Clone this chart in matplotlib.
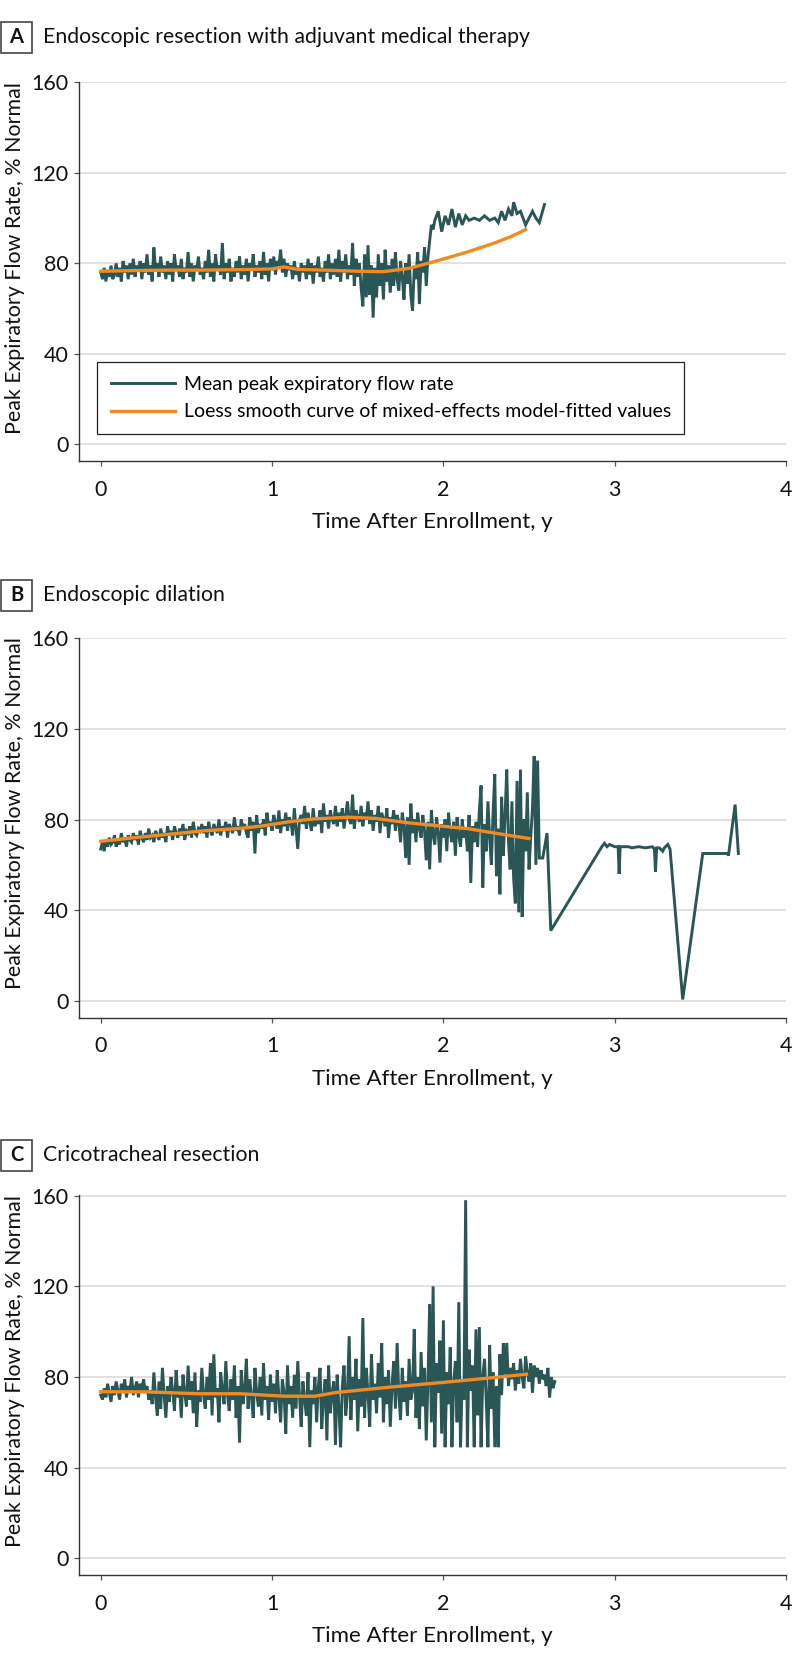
import matplotlib
matplotlib.use("Agg")
import matplotlib.pyplot as plt
import numpy as np
from matplotlib.patches import Rectangle

plt.rcParams['font.family'] = ['Lato', 'DejaVu Sans']

TEAL = '#2a5656'
ORANGE = '#f08a24'

# ---- panel A: endoscopic resection with adjuvant medical therapy ----
# daily means, one value every 0.01 y from 0
a_mean = [
    76, 73, 78, 72, 77, 74, 79, 73, 75, 80, 74, 78, 72, 81, 76, 79, 73, 80, 75, 82,
    74, 79, 77, 81, 73, 80, 76, 84, 75, 79, 72, 87, 77, 80, 74, 83, 76, 79, 73, 81,
    75, 80, 72, 84, 77, 79, 74, 82, 73, 78, 76, 85, 74, 80, 72, 79, 77, 83, 75, 78,
    73, 81, 76, 86, 74, 80, 72, 84, 77, 79, 75, 89, 73, 80, 76, 82, 72, 78, 74, 81,
    76, 83, 73, 79, 75, 82, 72, 80, 77, 84, 74, 79, 76, 81, 73, 85, 75, 80, 72, 82,
    77, 83, 75, 81, 79, 86, 76, 82, 74, 80, 77, 79, 73, 81, 75, 78, 72, 80, 76, 79,
    73, 82, 75, 80, 71, 79, 76, 83, 74, 78, 72, 81, 76, 84, 73, 80, 75, 82, 74, 86,
    72, 81, 76, 84, 73, 79, 75, 89, 70, 82, 74, 80, 69, 61, 84, 65, 88, 66, 79, 56,
    78, 65, 84, 70, 80, 64, 86, 72, 79, 67, 82, 70, 85, 73, 68, 81, 74, 64, 80, 71,
    84, 66, 59, 78, 73, 85, 62, 81, 76, 87, 70, 83, 90, 97, 95, 99,
]
a_tail_t = [1.97, 1.99, 2.01, 2.03, 2.05, 2.07, 2.09, 2.11, 2.13, 2.15, 2.18, 2.21,
            2.24, 2.27, 2.30, 2.32, 2.34, 2.36, 2.38, 2.40, 2.41, 2.43, 2.45, 2.48,
            2.50, 2.52, 2.54, 2.56, 2.59]
a_tail_v = [103, 94, 101, 97, 104, 96, 102, 97, 101, 99, 100, 99, 101, 99, 100, 98,
            103, 99, 104, 101, 107, 102, 103, 97, 100, 103, 100, 98, 106]
a_fit_t = [0, 0.2, 0.4, 0.6, 0.8, 1.0, 1.07, 1.15, 1.3, 1.5, 1.65, 1.8, 1.94, 2.05,
           2.14, 2.3, 2.4, 2.48]
a_fit_v = [76.5, 76.8, 77, 77, 77.2, 77.5, 78.4, 77.3, 77, 76.5, 76.3, 77.8, 80.6,
           83, 85, 89, 92, 94.9]

# ---- panel B: endoscopic dilation ----
b_mean = [
    67, 70, 66, 71, 68, 72, 69, 70, 73, 68, 71, 69, 74, 70, 72, 68, 73, 71, 70, 74,
    71, 73, 69, 75, 72, 70, 74, 71, 76, 72, 73, 70, 75, 73, 71, 76, 72, 74, 70, 77,
    73, 75, 71, 77, 74, 72, 76, 73, 78, 71, 75, 74, 77, 72, 79, 74, 73, 76, 75, 78,
    74, 77, 72, 79, 75, 73, 78, 76, 74, 80, 73, 77, 75, 79, 72, 78, 76, 74, 81, 75,
    77, 73, 80, 76, 78, 74, 72, 81, 75, 79, 65, 82, 74, 78, 76, 80, 73, 83, 77, 79,
    75, 82, 78, 76, 84, 74, 80, 77, 83, 75, 81, 79, 73, 85, 76, 67, 80, 82, 78, 86,
    76, 83, 79, 75, 85, 77, 81, 78, 84, 74, 87, 79, 82, 76, 84, 80, 78, 86, 77, 83,
    79, 85, 76, 82, 88, 80, 78, 91, 76, 84, 81, 79, 86, 77, 83, 80, 88, 78, 84, 75,
    82, 79, 86, 74, 83, 80, 77, 85, 72, 81, 78, 84, 75, 82, 79, 70, 83, 77, 63, 81,
    60, 87, 74, 80, 70, 83, 76, 72, 82, 75, 62, 79, 58, 84, 73, 69, 81, 75, 61, 78,
    72, 80, 66, 83, 74, 70, 79, 64, 81, 73, 68, 80, 72, 76, 66, 82, 52, 77, 70, 79,
    68, 84, 95, 50, 78, 66, 88, 72, 60, 83, 100, 55, 76, 47, 90, 64, 82, 102, 70, 58,
    88, 54, 43, 97, 39, 102, 37, 80, 66, 92, 58, 72, 85, 108, 60, 106,
]
b_tail_t = [2.56, 2.58, 2.605, 2.627, 2.925, 2.94, 2.955, 2.97, 3.0, 3.02, 3.026,
            3.032, 3.08, 3.10, 3.14, 3.18, 3.22, 3.232, 3.238, 3.245, 3.26, 3.28,
            3.29, 3.31, 3.323, 3.397, 3.514, 3.66, 3.664, 3.703, 3.722]
b_tail_v = [63, 63, 74, 31, 68, 69.5, 68, 69, 68, 68, 56, 68, 68, 67.5, 68, 67.5,
            68, 67, 57, 67.5, 67.5, 66, 67.5, 69, 67, 0.6, 65, 65, 64, 86.6, 65]
b_fit_t = [0, 0.2, 0.4, 0.6, 0.8, 0.93, 1.1, 1.25, 1.45, 1.6, 1.8, 2.0, 2.14, 2.3, 2.5]
b_fit_v = [70.4, 72, 73.5, 75, 76, 77, 79, 80.3, 81, 80.5, 78.5, 77, 76, 74, 71.6]

# ---- panel C: cricotracheal resection ----
c_mean = [
    72, 70, 75, 71, 77, 73, 69, 76, 72, 78, 74, 70, 77, 73, 79, 71, 76, 74, 80, 72,
    75, 78, 71, 77, 74, 79, 73, 76, 70, 74, 68, 82, 71, 63, 78, 66, 84, 72, 62, 76,
    69, 80, 74, 65, 83, 71, 76, 62, 81, 73, 67, 85, 70, 78, 64, 82, 58, 74, 69, 84,
    72, 66, 80, 70, 86, 63, 90, 71, 75, 60, 82, 74, 68, 87, 72, 65, 79, 70, 85, 62,
    76, 51, 83, 68, 74, 88, 66, 79, 71, 62, 84, 73, 67, 80, 63, 86, 70, 76, 61, 81,
    69, 77, 64, 83, 71, 60, 79, 73, 55, 85, 68, 76, 62, 81, 66, 87, 72, 58, 78, 70,
    63, 82, 49, 74, 68, 80, 60, 76, 84, 57, 71, 79, 52, 85, 64, 73, 78, 50, 81, 67,
    49, 76, 85, 63, 72, 98, 61, 80, 70, 88, 56, 79, 67, 106, 62, 84, 73, 58, 90, 70,
    77, 64, 86, 71, 95, 60, 80, 68, 83, 58, 76, 87, 66, 95, 72, 61, 84, 69, 78, 63,
    88, 70, 74, 101, 62, 80, 57, 91, 67, 84, 52, 78, 112, 60, 120, 49, 86, 73, 96, 55,
    105, 49, 82, 68, 93, 49, 77, 87, 60, 113, 49, 79, 70, 158, 49, 92, 74, 85, 49, 101,
    63, 102, 49, 80, 88, 70, 49, 94, 66, 82, 49, 76, 49, 90, 72, 95, 81, 95, 76, 84,
    79, 86, 74, 83, 77, 88, 80, 75, 89, 82, 78, 86, 73, 85, 80, 84, 77, 83, 79, 81,
    76, 84, 71, 80, 75, 78,
]
c_fit_t = [0, 0.27, 0.57, 0.81, 1.075, 1.25, 1.37, 1.70, 2.0, 2.29, 2.485]
c_fit_v = [73.5, 73.4, 72.6, 72.6, 71.5, 71.5, 73.1, 75.6, 77.6, 79.7, 81.2]

W, H = 798, 1659
AX_LEFT, AX_RIGHT = 79, 786

panels = [
    ('A', 'Endoscopic resection with adjuvant medical therapy', 81.7, 461, 37,
     a_mean, a_tail_t, a_tail_v, a_fit_t, a_fit_v),
    ('B', 'Endoscopic dilation', 637.5, 1017.6, 595,
     b_mean, b_tail_t, b_tail_v, b_fit_t, b_fit_v),
    ('C', 'Cricotracheal resection', 1195, 1575, 1155,
     c_mean, [], [], c_fit_t, c_fit_v),
]

fig = plt.figure(figsize=(W / 100, H / 100), dpi=100)

for letter, title, top, bot, title_y, dense, tail_t, tail_v, fit_t, fit_v in panels:
    ax = fig.add_axes([AX_LEFT / W, 1 - bot / H, (AX_RIGHT - AX_LEFT) / W, (bot - top) / H])
    t = np.concatenate([np.arange(len(dense)) / 100, tail_t])
    v = np.concatenate([dense, tail_v])
    l1, = ax.plot(t, v, color=TEAL, lw=2.1, solid_joinstyle='miter', zorder=3,
                  label='Mean peak expiratory flow rate')
    l2, = ax.plot(fit_t, fit_v, color=ORANGE, lw=2.4, zorder=4,
                  label='Loess smooth curve of mixed-effects model-fitted values')

    ax.set_xlim(-0.127, 4.0)
    ax.set_ylim(-7.4, 160.3)
    ax.set_xticks([0, 1, 2, 3, 4])
    ax.set_yticks([0, 40, 80, 120, 160])
    ax.grid(axis='y', color='#d9d9d9', lw=1.1)
    ax.set_axisbelow(True)
    for s in ['top', 'right']:
        ax.spines[s].set_visible(False)
    for s in ['left', 'bottom']:
        ax.spines[s].set_color('#333333')
        ax.spines[s].set_linewidth(1.0)
    ax.tick_params(length=3.5, width=0.9, color='#555555', labelsize=15.5,
                   labelcolor='#111111')
    ax.tick_params(axis='y', pad=4)
    ax.tick_params(axis='x', pad=10)

    h = bot - top
    ax.text(0.5, -61 / h, 'Time After Enrollment, y', transform=ax.transAxes,
            ha='center', va='center', fontsize=16, color='#111111')
    fig.text(15 / W, 1 - (top + 176) / H, 'Peak Expiratory Flow Rate, % Normal',
             rotation=90, ha='center', va='center', fontsize=15.4, color='#111111')

    # panel letter box and title
    fig.patches.append(Rectangle((1 / W, 1 - (title_y + 15.5) / H), 31 / W, 31 / H,
                                 transform=fig.transFigure, facecolor='white',
                                 edgecolor='#444444', lw=1.2))
    fig.text(16.5 / W, 1 - title_y / H, letter, ha='center', va='center',
             fontsize=14.5, fontweight='bold', color='#111111')
    fig.text(43 / W, 1 - title_y / H, title, ha='left', va='center',
             fontsize=15.3, color='#111111')

    if letter == 'A':
        leg = ax.legend(handles=[l1, l2], loc='lower left',
                        bbox_to_anchor=((97 - AX_LEFT) / (AX_RIGHT - AX_LEFT), (bot - 434) / h),
                        borderaxespad=0, fontsize=14, handlelength=3.3,
                        handletextpad=0.45, borderpad=0.7, labelspacing=0.55,
                        fancybox=False, framealpha=1, edgecolor='#222222')
        leg.get_frame().set_linewidth(0.9)

fig.savefig('out.png', dpi=100)
